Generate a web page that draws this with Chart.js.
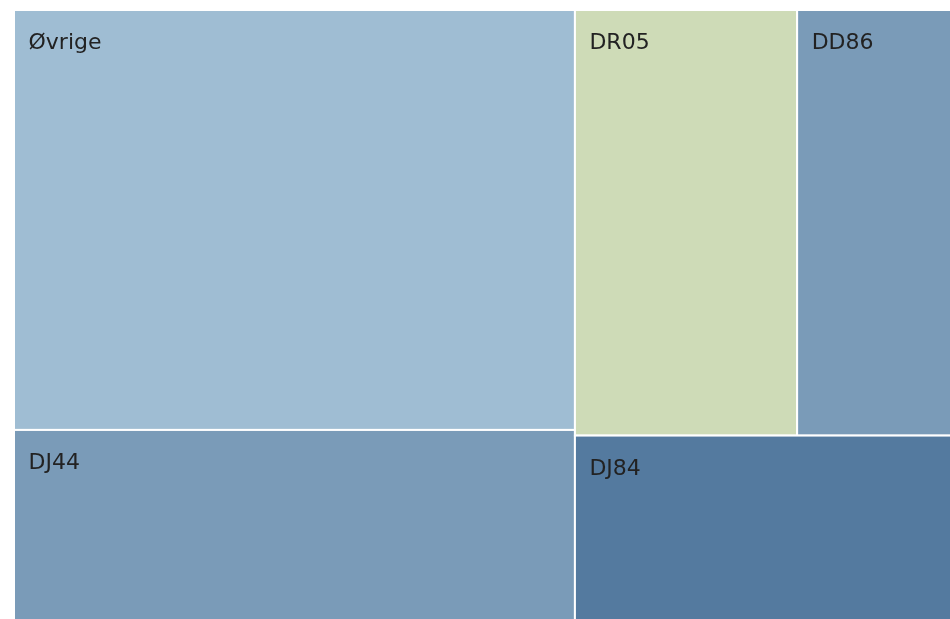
<!DOCTYPE html>
<html>
<head>
<meta charset="utf-8">
<script src="https://cdn.jsdelivr.net/npm/chart.js@4/dist/chart.umd.min.js"></script>
<style>
html,body{margin:0;padding:0;overflow:hidden;background:#fff;}
#wrap{width:952px;height:621px;position:relative;}
</style>
</head>
<body>
<div id="wrap"><canvas id="c"></canvas></div>
<script>
// Data (share of total, %)
const labels = ["Øvrige", "DJ44", "DR05", "DD86", "DJ84"];
const values = [41.1, 18.7, 16.5, 11.5, 12.2];
const colors = ["#9fbdd3", "#7a9bb8", "#cedbb7", "#7a9bb8", "#547a9f"];

// Treemap layout built from the values (in data units 0..100 on both axes)
function layout() {
  const total = values.reduce((a, b) => a + b, 0);
  const leftSum = values[0] + values[1];
  const leftW = 100 * leftSum / total;
  const rects = [];
  // left column: Øvrige over DJ44
  const h0 = 100 * values[0] / leftSum;
  rects.push({i: 0, x0: 0, x1: leftW, y0: 0, y1: h0});
  rects.push({i: 1, x0: 0, x1: leftW, y0: h0, y1: 100});
  // right column: top row DR05 | DD86, bottom DJ84
  const rightSum = values[2] + values[3] + values[4];
  const topSum = values[2] + values[3];
  const topH = 100 * topSum / rightSum;
  const dr = leftW + (100 - leftW) * values[2] / topSum;
  rects.push({i: 2, x0: leftW, x1: dr, y0: 0, y1: topH});
  rects.push({i: 3, x0: dr, x1: 100, y0: 0, y1: topH});
  rects.push({i: 4, x0: leftW, x1: 100, y0: topH, y1: 100});
  return rects;
}

const treemapPlugin = {
  id: 'treemap',
  afterDatasetsDraw(chart) {
    const ctx = chart.ctx;
    const xs = chart.scales.x, ys = chart.scales.y;
    const rects = layout();
    ctx.save();
    rects.forEach(r => {
      const L = xs.getPixelForValue(r.x0), R = xs.getPixelForValue(r.x1);
      const T = ys.getPixelForValue(r.y0), B = ys.getPixelForValue(r.y1);
      ctx.fillStyle = colors[r.i];
      ctx.fillRect(L, T, R - L, B - T);
      ctx.strokeStyle = '#ffffff';
      ctx.lineWidth = 2;
      ctx.strokeRect(L, T, R - L, B - T);
    });
    rects.forEach(r => {
      const L = xs.getPixelForValue(r.x0);
      const T = ys.getPixelForValue(r.y0);
      ctx.fillStyle = '#222222';
      ctx.font = '22px "DejaVu Sans", Verdana, sans-serif';
      ctx.textBaseline = 'alphabetic';
      ctx.textAlign = 'left';
      ctx.fillText(labels[r.i], L + 14.5, T + 39);
    });
    ctx.restore();
  }
};

new Chart(document.getElementById('c'), {
  type: 'scatter',
  data: { datasets: [{ data: [], label: 'treemap' }] },
  options: {
    responsive: true,
    maintainAspectRatio: false,
    animation: false,
    layout: { padding: { left: 14, top: 10, right: 0, bottom: 0 } },
    plugins: { legend: { display: false }, tooltip: { enabled: false } },
    scales: {
      x: { type: 'linear', min: 0, max: 100, display: false },
      y: { type: 'linear', min: 0, max: 100, reverse: true, display: false }
    }
  },
  plugins: [treemapPlugin]
});
</script>
</body>
</html>
